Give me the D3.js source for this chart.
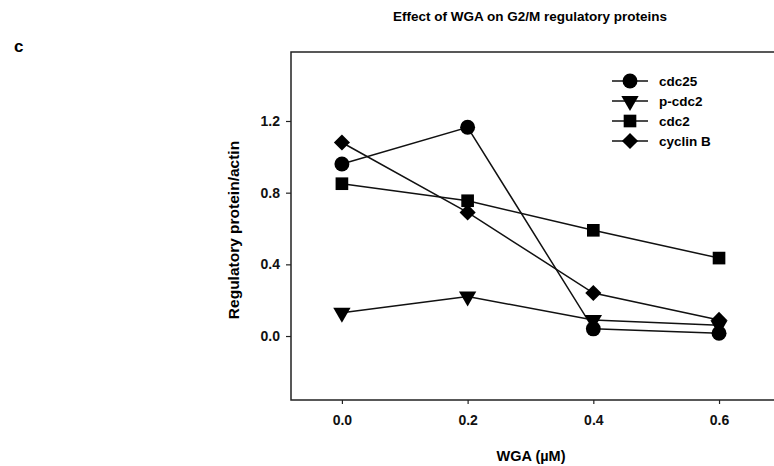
<!DOCTYPE html>
<html>
<head>
<meta charset="utf-8">
<script src="https://cdn.jsdelivr.net/npm/d3@7"></script>
<style>
  body { margin: 0; background: #fff; }
  svg { display: block; font-family: "Liberation Sans", Arial, sans-serif; }
</style>
</head>
<body>
<svg id="chart" width="774" height="466"></svg>
<script>
// WGA dose (µM) and regulatory protein/actin ratios
const doses = [0.0, 0.2, 0.4, 0.6];
const cdc25 = [0.96, 1.165, 0.04, 0.015];
const pCdc2 = [0.13, 0.22, 0.09, 0.06];
const cdc2 = [0.85, 0.755, 0.59, 0.435];
const cyclinB = [1.08, 0.69, 0.24, 0.09];
const seriesNames = ["cdc25", "p-cdc2", "cdc2", "cyclin B"];
const xTicks = [0.0, 0.2, 0.4, 0.6];
const yTicks = [0.0, 0.4, 0.8, 1.2];

const series = [
  { name: seriesNames[0], values: cdc25, symbol: d3.symbolCircle, size: 175, rot: 0 },
  { name: seriesNames[1], values: pCdc2, symbol: d3.symbolTriangle, size: 130, rot: 180 },
  { name: seriesNames[2], values: cdc2, symbol: d3.symbolSquare, size: 160, rot: 0 },
  { name: seriesNames[3], values: cyclinB, symbol: d3.symbolSquare, size: 130, rot: 45 }
];

const svg = d3.select("#chart");
const plotLeft = 291, plotRight = 780, plotTop = 52, plotBottom = 400;

const x = d3.scaleLinear().domain([-0.081, 0.697]).range([plotLeft, plotRight]);
const y = d3.scaleLinear().domain([-0.357, 1.585]).range([plotBottom, plotTop]);

// Title and panel letter
svg.append("text").attr("x", 530).attr("y", 21).attr("text-anchor", "middle")
  .attr("font-size", 13.5).attr("font-weight", "bold")
  .text("Effect of WGA on G2/M regulatory proteins");
svg.append("text").attr("x", 14).attr("y", 52)
  .attr("font-size", 17).attr("font-weight", "bold").text("c");

// Axes
const yAxis = d3.axisLeft(y).tickValues(yTicks).tickFormat(d3.format(".1f"))
  .tickSize(5).tickPadding(6);
const xAxis = d3.axisBottom(x).tickValues(xTicks).tickFormat(d3.format(".1f"))
  .tickSize(4).tickPadding(11);

const gy = svg.append("g").attr("transform", `translate(${plotLeft},0)`).call(yAxis);
const gx = svg.append("g").attr("transform", `translate(0,${plotBottom})`).call(xAxis);
[gy, gx].forEach(g => {
  g.select(".domain").remove();
  g.selectAll(".tick line").attr("stroke", "#222").attr("stroke-width", 1.2);
  g.selectAll(".tick text").attr("fill", "#111").attr("font-size", 14)
    .attr("font-weight", "bold").attr("font-family", "Liberation Sans, Arial, sans-serif");
});

// Plot frame (open on the right)
svg.append("path")
  .attr("d", `M${plotRight},${plotTop}H${plotLeft}V${plotBottom}H${plotRight}`)
  .attr("fill", "none").attr("stroke", "#222").attr("stroke-width", 1.5);

// Axis titles
svg.append("text").attr("transform", `translate(239,${(plotTop + plotBottom) / 2 + 4}) rotate(-90)`)
  .attr("text-anchor", "middle").attr("font-size", 15.5).attr("font-weight", "bold")
  .text("Regulatory protein/actin");
svg.append("text").attr("x", 531).attr("y", 461).attr("text-anchor", "middle")
  .attr("font-size", 14.5).attr("font-weight", "bold").text("WGA (\u00b5M)");

// Lines
const line = d3.line().x((d, i) => x(doses[i])).y(d => y(d));
const sym = s => d3.symbol().type(s.symbol).size(s.size)();

series.forEach(s => {
  svg.append("path").attr("d", line(s.values))
    .attr("fill", "none").attr("stroke", "#111").attr("stroke-width", 1.5);
});
series.forEach(s => {
  svg.append("g").selectAll("path").data(s.values).join("path")
    .attr("d", sym(s))
    .attr("transform", (d, i) => `translate(${x(doses[i])},${y(d)}) rotate(${s.rot})`)
    .attr("fill", "#000");
});

// Legend
const legY = d3.scalePoint().domain(seriesNames).range([81, 141]);
const leg = svg.append("g");
series.forEach(s => {
  const yy = legY(s.name);
  leg.append("line").attr("x1", 612).attr("x2", 648).attr("y1", yy).attr("y2", yy)
    .attr("stroke", "#111").attr("stroke-width", 1.5);
  leg.append("path").attr("d", sym(s))
    .attr("transform", `translate(630,${yy}) rotate(${s.rot})`).attr("fill", "#000");
  leg.append("text").attr("x", 659).attr("y", yy + 5).attr("font-size", 13.5)
    .attr("font-weight", "bold").text(s.name);
});
</script>
</body>
</html>
